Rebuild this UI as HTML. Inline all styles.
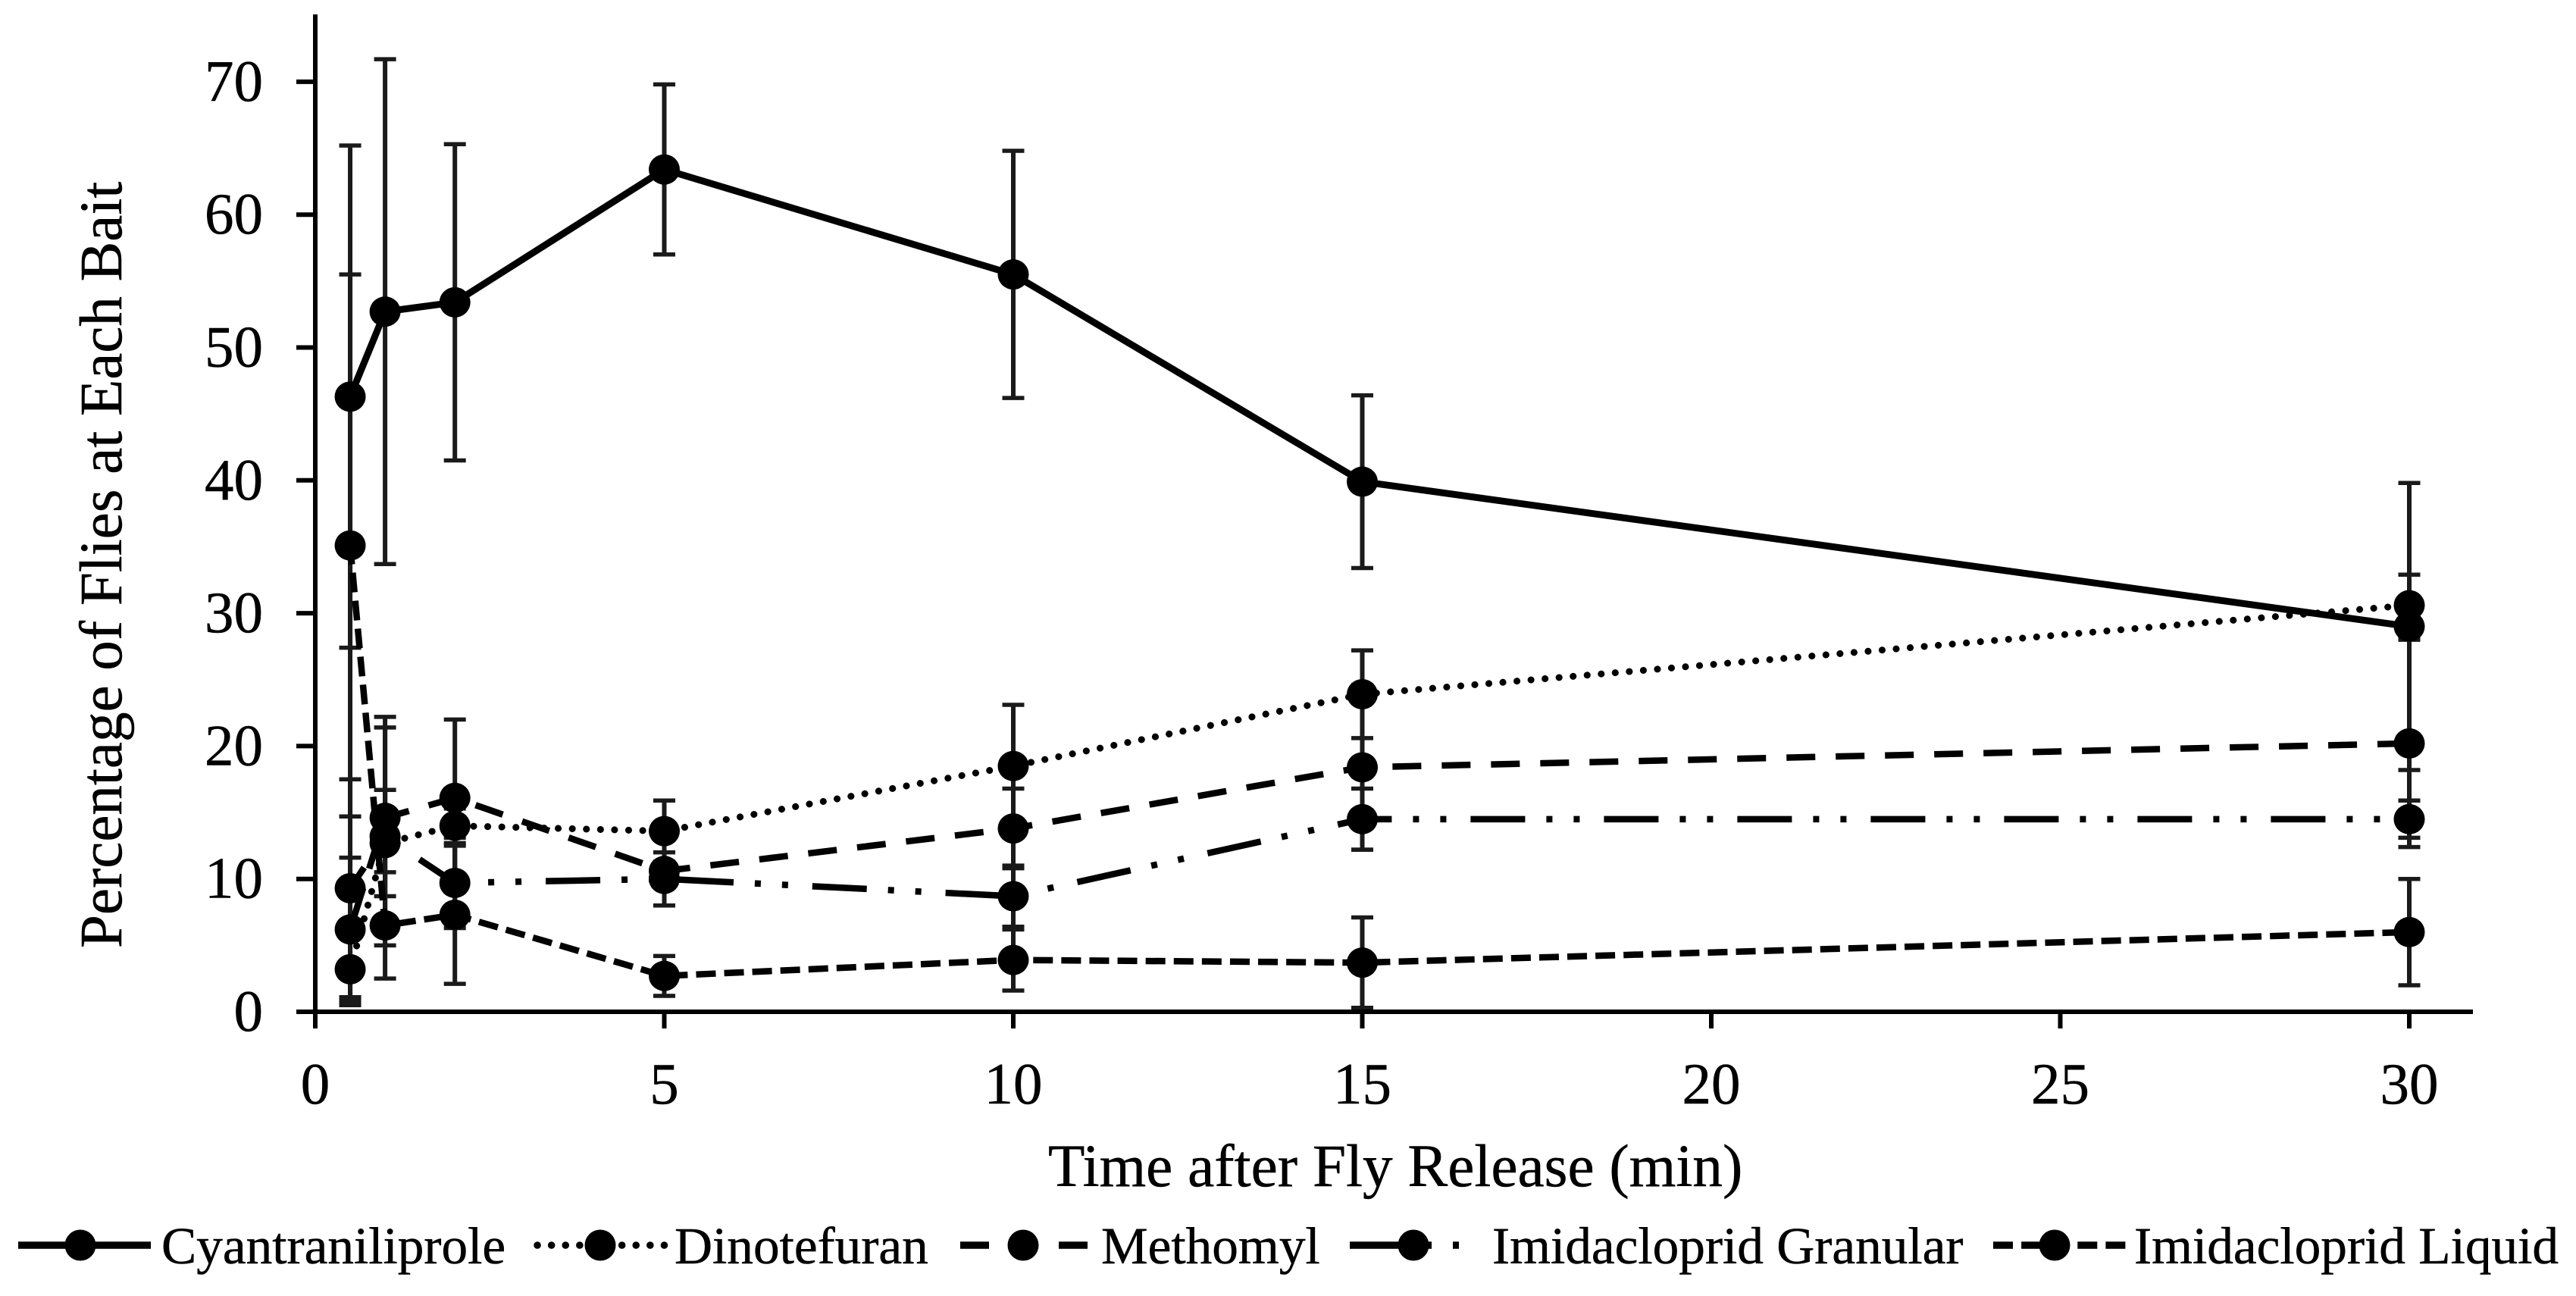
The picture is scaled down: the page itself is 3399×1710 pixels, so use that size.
<!DOCTYPE html>
<html lang="en">
<head>
<meta charset="utf-8">
<title>Percentage of Flies at Each Bait</title>
<style>
html,body{margin:0;padding:0;background:#fff;width:3399px;height:1710px;overflow:hidden}
svg{display:block}
text{font-family:"Liberation Serif",serif;fill:#000;stroke:#000;stroke-width:0.5px}
</style>
</head>
<body>
<svg id="chart" xmlns="http://www.w3.org/2000/svg" width="3399" height="1710" viewBox="0 0 3399 1710">
  <rect width="3399" height="1710" fill="#fff"/>
  <g id="error-layer"></g>
  <g id="line-layer"></g>
  <g id="marker-layer"></g>
  <g id="axis-layer"></g>
  <text transform="translate(160 1251) rotate(-90)" font-size="79">Percentage of Flies at Each Bait</text>
  <text x="1383" y="1565" font-size="79.2">Time after Fly Release (min)</text>
  <g id="legend-layer"></g>
</svg>
<script>
var times = [0.5, 1, 2, 5, 10, 15, 30];
var xTicks = [0, 5, 10, 15, 20, 25, 30];
var yTicks = [0, 10, 20, 30, 40, 50, 60, 70];

var seriesNames = ["Cyantraniliprole", "Dinotefuran", "Methomyl", "Imidacloprid Granular", "Imidacloprid Liquid"];

var cyantraniliprole = [46.3, 52.7, 53.4, 63.4, 55.5, 39.9, 29.0];
var dinotefuran = [3.2, 12.7, 14.0, 13.6, 18.5, 23.9, 30.6];
var methomyl = [6.2, 14.6, 16.1, 10.6, 13.8, 18.4, 20.2];
var granular = [9.3, 13.2, 9.7, 10.0, 8.7, 14.5, 14.5];
var liquid = [35.1, 6.5, 7.3, 2.7, 3.9, 3.7, 6.0];

var cyantraniliproleErr = [18.9, 19.0, 11.9, 6.4, 9.3, 6.5, 10.8];
var dinotefuranErr = [2.7, 4.0, 1.3, 2.3, 4.6, 3.3, 2.3];
var methomylErr = [5.4, 7.6, 5.9, 2.6, 3.0, 6.2, 7.8];
var granularErr = [8.2, 8.2, 3.4, 2.0, 2.3, 2.3, 1.4];
var liquidErr = [20.4, 4.0, 5.2, 1.5, 2.3, 3.4, 4.0];

var allValues = [cyantraniliprole, dinotefuran, methomyl, granular, liquid];
var allErrors = [cyantraniliproleErr, dinotefuranErr, methomylErr, granularErr, liquidErr];

var dashStyles = ["none", "0.1 18.5", "38 27", "72 28 8 28 8 32", "26 11.1"];
var dashOffsets = [0, 5.2, 46, 39, 1];
var lineCaps = ["butt", "round", "butt", "butt", "butt"];
var lineWidths = [9, 9, 8.5, 8.5, 8.5];

var NS = "http://www.w3.org/2000/svg";
function xScale(t) { return 416 + t * 92.1; }
function yScale(v) { return 1335 - v * 17.53; }
function make(tag, parent, attrs) {
  var el = document.createElementNS(NS, tag);
  for (var k in attrs) { el.setAttribute(k, attrs[k]); }
  parent.appendChild(el);
  return el;
}

var errorLayer = document.getElementById("error-layer");
var lineLayer = document.getElementById("line-layer");
var markerLayer = document.getElementById("marker-layer");
var axisLayer = document.getElementById("axis-layer");
var legendLayer = document.getElementById("legend-layer");

allValues.forEach(function (values, s) {
  var errs = allErrors[s];
  var pts = [];
  values.forEach(function (v, i) {
    var x = xScale(times[i]);
    var top = yScale(v + errs[i]);
    var bottom = yScale(Math.max(v - errs[i], 0));
    var stem = make("line", errorLayer, {x1: x, x2: x, y1: top, y2: bottom, stroke: "#1a1a1a", "stroke-width": 6});
    
    
    var capTop = make("line", errorLayer, {x1: x - 14.5, x2: x + 14.5, y1: top, y2: top, stroke: "#1a1a1a", "stroke-width": 5.5});
    
    
    var capBottom = make("line", errorLayer, {x1: x - 14.5, x2: x + 14.5, y1: bottom, y2: bottom, stroke: "#1a1a1a", "stroke-width": 5.5});
    
    
    pts.push(x + "," + yScale(v));
    var dot = make("ellipse", markerLayer, {cx: x, cy: yScale(v), rx: 20.5, ry: 20, fill: "#000"});
    
    
  });
  var line = make("polyline", lineLayer, {points: pts.join(" "), fill: "none", stroke: "#000", "stroke-width": lineWidths[s], "stroke-dasharray": dashStyles[s], "stroke-dashoffset": dashOffsets[s], "stroke-linecap": lineCaps[s], "stroke-linejoin": "round"});
  
  
});

var yAxisLine = make("line", axisLayer, {x1: 416, x2: 416, y1: 19, y2: 1338, stroke: "#000", "stroke-width": 6});


var xAxisLine = make("line", axisLayer, {x1: 391, x2: 3263, y1: 1335, y2: 1335, stroke: "#000", "stroke-width": 6});



yTicks.forEach(function (v) {
  var y = yScale(v);
  var tick = make("line", axisLayer, {x1: 391, x2: 416, y1: y, y2: y, stroke: "#000", "stroke-width": 6});
  
  
  var label = make("text", axisLayer, {x: 347, y: y + 25, "font-size": 77, "text-anchor": "end"});
  
  
  label.textContent = v;
});

xTicks.forEach(function (v) {
  var x = xScale(v);
  var tick = make("line", axisLayer, {x1: x, x2: x, y1: 1335, y2: 1357, stroke: "#000", "stroke-width": 6});
  
  
  var label = make("text", axisLayer, {x: x, y: 1456, "font-size": 77, "text-anchor": "middle"});
  
  
  label.textContent = v;
});

var legendLineStart = [24, 705, 1267, 1781, 2630];
var legendMarkerX = [106, 792, 1350, 1865, 2711];
var legendTextX = [213, 890, 1453, 1969, 2816];
seriesNames.forEach(function (name, s) {
  var entry = make("g", legendLayer, {});
  
  
  var sample = make("line", entry, {x1: legendLineStart[s] + (s === 1 ? 4 : 0), x2: legendLineStart[s] + 175, y1: 1643, y2: 1643, stroke: "#000", "stroke-width": 9.5, "stroke-dasharray": dashStyles[s], "stroke-linecap": lineCaps[s]});
  
  
  var mark = make("circle", entry, {cx: legendMarkerX[s], cy: 1643, r: 20.5, fill: "#000"});
  
  
  var label = make("text", entry, {x: legendTextX[s], y: 1667, "font-size": 69.3});
  
  
  label.textContent = name;
});
</script>
</body>
</html>
